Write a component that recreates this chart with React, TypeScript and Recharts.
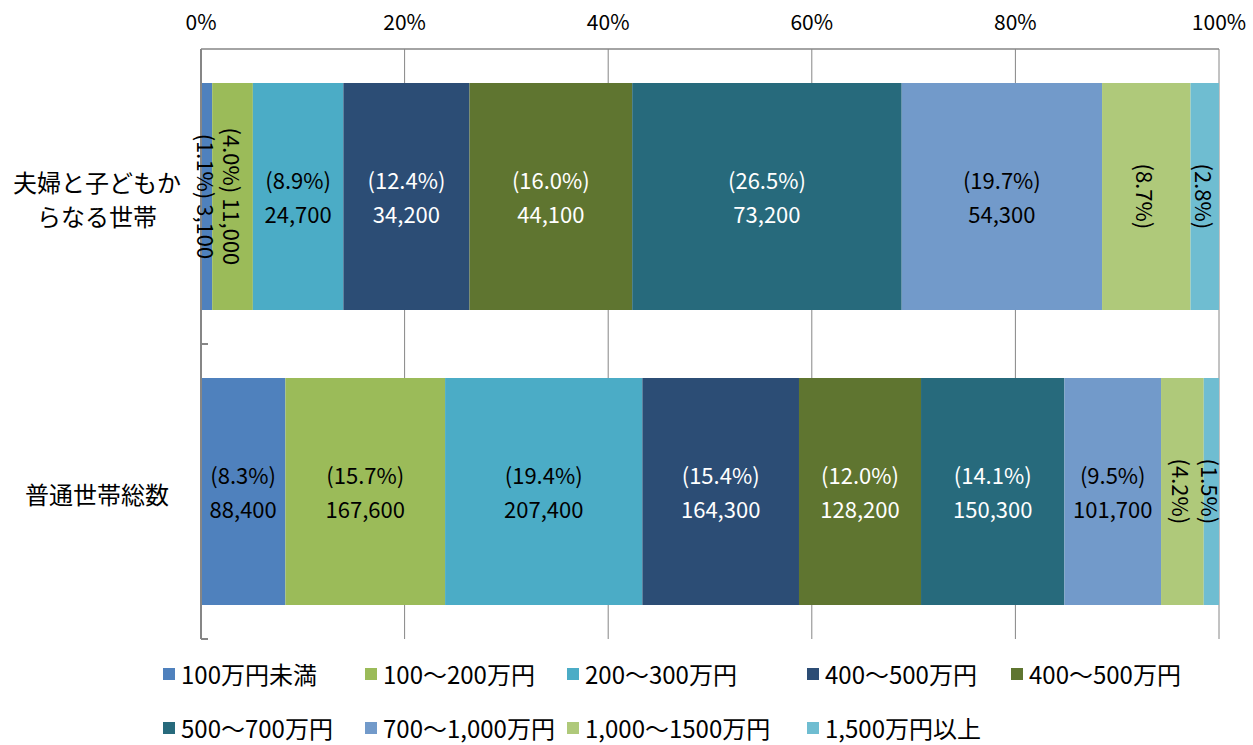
import React from 'react';
import { BarChart, Bar, XAxis, YAxis, CartesianGrid, LabelList } from 'recharts';

const categories = ['夫婦と子どもからなる世帯', '普通世帯総数'];
const seriesNames = [
  '100万円未満',
  '100～200万円',
  '200～300万円',
  '400～500万円',
  '400～500万円',
  '500～700万円',
  '700～1,000万円',
  '1,000～1500万円',
  '1,500万円以上',
];
const coupleShares = [1.1, 4.0, 8.9, 12.4, 16.0, 26.5, 19.7, 8.7, 2.8];
const coupleCounts: (number | null)[] = [3100, 11000, 24700, 34200, 44100, 73200, 54300, null, null];
const totalShares = [8.3, 15.7, 19.4, 15.4, 12.0, 14.1, 9.5, 4.2, 1.5];
const totalCounts: (number | null)[] = [88400, 167600, 207400, 164300, 128200, 150300, 101700, null, null];
const xTicks = [0, 0.2, 0.4, 0.6, 0.8, 1];

const colors = ['#4F81BD', '#9BBB59', '#4BACC6', '#2C4D75', '#5F7530', '#276A7C', '#729ACA', '#AFC97A', '#6FBDD1'];
const labelColors = ['#000', '#000', '#000', '#fff', '#fff', '#fff', '#000', '#000', '#000'];

const sharesByRow = [coupleShares, totalShares];
const countsByRow = [coupleCounts, totalCounts];

const data = categories.map((name, r) => {
  const row: Record<string, any> = { name };
  sharesByRow[r].forEach((v, i) => {
    row['s' + i] = v;
  });
  return row;
});

const W = 1253;
const H = 745;
const M = { top: 0, right: 34, bottom: 106, left: 0 };
const Y_AXIS_W = 201;
const X_AXIS_H = 49;
const PLOT_TOP = M.top + X_AXIS_H;
const PLOT_BOTTOM = H - M.bottom;
const FONT = '"Noto Sans CJK JP", "Noto Sans", sans-serif';

const fmt = (n: number) => n.toLocaleString('en-US');

const makeLabel = (si: number) => (props: any) => {
  const { x, y, width, height, index } = props;
  const share = sharesByRow[index][si];
  const count = countsByRow[index][si];
  const cx = Number(x) + Number(width) / 2;
  const cy = Number(y) + Number(height) / 2;
  const pct = `(${share.toFixed(1)}%)`;
  const fill = labelColors[si];
  const rotated = count === null || share < 5;
  if (rotated) {
    const txt = count === null ? pct : `${pct} ${fmt(count)}`;
    return (
      <text
        x={cx}
        y={cy}
        transform={`rotate(90, ${cx}, ${cy})`}
        textAnchor="middle"
        dominantBaseline="central"
        fontSize={22}
        fontFamily={FONT}
        fill={fill}
      >
        {txt}
      </text>
    );
  }
  return (
    <g>
      <text x={cx} y={cy - 17} textAnchor="middle" dominantBaseline="central" fontSize={22} fontFamily={FONT} fill={fill}>
        {pct}
      </text>
      <text x={cx} y={cy + 17} textAnchor="middle" dominantBaseline="central" fontSize={22} fontFamily={FONT} fill={fill}>
        {fmt(count as number)}
      </text>
    </g>
  );
};

const CategoryTick = (props: any) => {
  const { y, payload } = props;
  const name: string = payload.value;
  const lines = name.length > 7 ? [name.slice(0, 7), name.slice(7)] : [name];
  const lh = 34;
  const start = y - ((lines.length - 1) * lh) / 2 + 2;
  return (
    <g>
      {lines.map((l, i) => (
        <text
          key={i}
          x={97}
          y={start + i * lh}
          textAnchor="middle"
          dominantBaseline="central"
          fontSize={24}
          fontFamily={FONT}
          fill="#000"
        >
          {l}
        </text>
      ))}
    </g>
  );
};

const legendCols = '202px 202px 240px 204px auto';

export default function App() {
  const bandH = (PLOT_BOTTOM - PLOT_TOP) / categories.length;
  return (
    <div style={{ position: 'absolute', left: 0, top: 0, width: W, height: H, background: '#fff', fontFamily: FONT }}>
      <BarChart
        width={W}
        height={H}
        data={data}
        layout="vertical"
        stackOffset="expand"
        margin={M}
        barCategoryGap="11.5%"
      >
        <CartesianGrid horizontal={false} vertical stroke="#868686" strokeWidth={1} />
        <XAxis
          type="number"
          orientation="top"
          domain={[0, 1]}
          ticks={xTicks}
          height={X_AXIS_H}
          axisLine={{ stroke: '#868686', strokeWidth: 1.5 }}
          tickLine={false}
          tickSize={0}
          tickMargin={19}
          tickFormatter={(v: number) => `${Math.round(v * 100)}%`}
          tick={{ fontSize: 21, fill: '#000', fontFamily: FONT }}
          interval={0}
        />
        <YAxis
          type="category"
          dataKey="name"
          width={Y_AXIS_W}
          axisLine={{ stroke: '#868686', strokeWidth: 2 }}
          tickLine={false}
          tickSize={0}
          tickMargin={0}
          tick={<CategoryTick />}
          interval={0}
        />
        {seriesNames.map((n, i) => (
          <Bar key={i} dataKey={'s' + i} name={n} stackId="a" fill={colors[i]} isAnimationActive={false}>
            <LabelList dataKey={'s' + i} content={makeLabel(i)} />
          </Bar>
        ))}
      </BarChart>
      <svg style={{ position: 'absolute', left: 0, top: 0, pointerEvents: 'none' }} width={W} height={H}>
        {categories.map((_, i) => (
          <line
            key={i}
            x1={Y_AXIS_W}
            x2={Y_AXIS_W + 7}
            y1={PLOT_TOP + bandH * (i + 1)}
            y2={PLOT_TOP + bandH * (i + 1)}
            stroke="#868686"
            strokeWidth={2}
          />
        ))}
      </svg>
      <div
        style={{
          position: 'absolute',
          left: 163,
          top: 647,
          display: 'grid',
          gridTemplateColumns: legendCols,
          gridAutoRows: '54px',
          alignItems: 'center',
          fontSize: 24,
          lineHeight: '30px',
          fontFamily: FONT,
          color: '#000',
        }}
      >
        {seriesNames.map((n, i) => (
          <div key={i} style={{ display: 'flex', alignItems: 'center', whiteSpace: 'nowrap' }}>
            <span style={{ display: 'inline-block', width: 12, height: 12, background: colors[i], marginRight: 6 }} />
            <span>{n}</span>
          </div>
        ))}
      </div>
    </div>
  );
}
